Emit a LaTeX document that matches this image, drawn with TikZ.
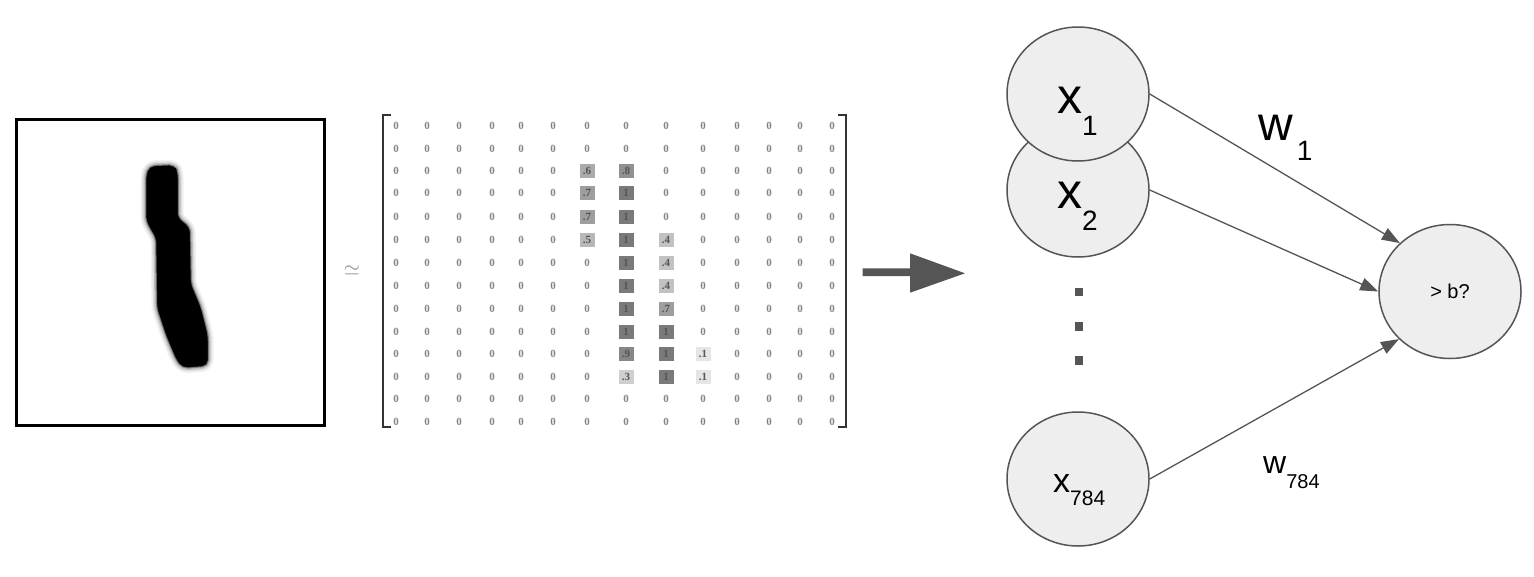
\documentclass[tikz,border=0pt]{standalone}
\usepackage{fontspec}
\setmainfont{Liberation Sans}
\newfontfamily\matfont{Liberation Serif}
\usetikzlibrary{arrows.meta,shapes.geometric}
\definecolor{ink}{HTML}{555555}
\definecolor{nodefill}{HTML}{EEEEEE}
\definecolor{zerogray}{HTML}{858585}
\definecolor{boxtext}{HTML}{555555}
\definecolor{bracketcol}{HTML}{333333}
\tikzset{
  neuron/.style={ellipse, draw=ink, line width=1.5pt, fill=nodefill,
    minimum width=142pt, minimum height=134pt, inner sep=0pt},
  conn/.style={draw=ink, line width=1.3pt, -{Triangle[length=18pt,width=13pt]}},
  lbl/.style={anchor=base west, inner sep=0pt, text=black},
  zero/.style={inner sep=0pt, text=zerogray, font=\matfont\bfseries\fontsize{11}{11}\selectfont},
  valbox/.style={inner sep=0pt, minimum width=16pt, minimum height=15pt, draw=white, line width=0.6pt,
    text=boxtext, font=\matfont\bfseries\fontsize{11}{11}\selectfont},
  bracket/.style={draw=bracketcol, line width=2pt},
  dotsq/.style={fill=ink, draw=none, minimum size=8.5pt, inner sep=0pt}
}
\begin{document}
\begin{tikzpicture}[x=1pt,y=-1pt]
\useasboundingbox (0,0) rectangle (1534,576);
\fill[white] (0,0) rectangle (1534,576);

% digit image
\node (img) [draw=black, line width=2.5pt, minimum width=308pt, minimum height=306pt, inner sep=0pt, anchor=north west] at (15,118) {};
\foreach \w/\c in {13/5,10/12,7/25,4/50,2/80,1/100}{
  \draw[line width=\w pt, draw=black!\c, fill=black!\c, rounded corners=5pt, line join=round]
    (150,167) -- (174,166) -- (177,173) -- (177,218) -- (189,228) -- (190,284) -- (200,308)
    -- (207,336) -- (207,365) -- (183,367) -- (177,359) -- (167,335) -- (158,308) -- (157,238)
    -- (151,228) -- (147,220) -- (147,176) -- cycle;
}

% approx symbol
\node (approx) [inner sep=0pt, text=black!45] at (352,271) {\fontsize{22}{22}\selectfont$\simeq$};

% matrix zeros
\foreach \y [count=\r from 0] in {126,149,171,193,217,240,263,286,309,332,354,377,399,422}{
  \foreach \x [count=\c from 0] in {396,427,459,492,521,553,587,626,666,703,737,769,800,832}{
    \node (c\r-\c) [zero] at (\x,\y) {0};
  }
}
% non-zero boxes
\foreach \r/\c/\t/\s in {2/6/.6/33, 2/7/.8/43, 3/6/.7/38, 3/7/1/52, 4/6/.7/38, 4/7/1/52,
  5/6/.5/28, 5/7/1/52, 5/8/.4/24, 6/7/1/52, 6/8/.4/24, 7/7/1/52, 7/8/.4/24,
  8/7/1/52, 8/8/.7/38, 9/7/1/52, 9/8/1/52, 10/7/.9/47, 10/8/1/52, 10/9/.1/10,
  11/7/.3/19, 11/8/1/52, 11/9/.1/10}{
  \node (v\r-\c) [valbox, fill=black!\s] at (c\r-\c) {\t};
}
% brackets
\draw[bracket] (391,115) -- (383,115) -- (383,427) -- (391,427);
\draw[bracket] (838,115) -- (846,115) -- (846,427) -- (838,427);

% big arrow
\fill[ink] (862.7,268.3) -- (910,268.3) -- (910,253.3) -- (965,273.3) -- (910,292.7) -- (910,276) -- (862.7,276) -- cycle;

% neurons
\node (x2) [neuron] at (1078,190) {};
\node (x1) [neuron] at (1078,94) {};
\node (x784) [neuron] at (1078,479) {};
\node (out) [neuron, font=\fontsize{20}{20}\selectfont] at (1450,291.5) {> b?};

\node (x1t) [lbl] at (1057,113) {\fontsize{50}{50}\selectfont x\raisebox{-22pt}{\fontsize{28}{28}\selectfont 1}};
\node (x2t) [lbl] at (1057,208) {\fontsize{50}{50}\selectfont x\raisebox{-22pt}{\fontsize{28}{28}\selectfont 2}};
\node (x784t) [lbl] at (1053,492) {\fontsize{34}{34}\selectfont x\raisebox{-13pt}{\fontsize{21}{21}\selectfont 784}};

% dots
\node (d1) [dotsq] at (1079,292) {};
\node (d2) [dotsq] at (1079,326.5) {};
\node (d3) [dotsq] at (1079,360.5) {};

% connectors
\draw[conn] (x1.east) -- (out.136);
\draw[conn] (x2.east) -- (out.west);
\draw[conn] (x784.east) -- (out.223);

% weight labels
\node (w1) [lbl] at (1258,140) {\fontsize{48}{48}\selectfont w\kern4pt\raisebox{-20pt}{\fontsize{28}{28}\selectfont 1}};
\node (w784) [lbl] at (1263,473) {\fontsize{32}{32}\selectfont w\raisebox{-15pt}{\fontsize{20}{20}\selectfont 784}};
\end{tikzpicture}
\end{document}
